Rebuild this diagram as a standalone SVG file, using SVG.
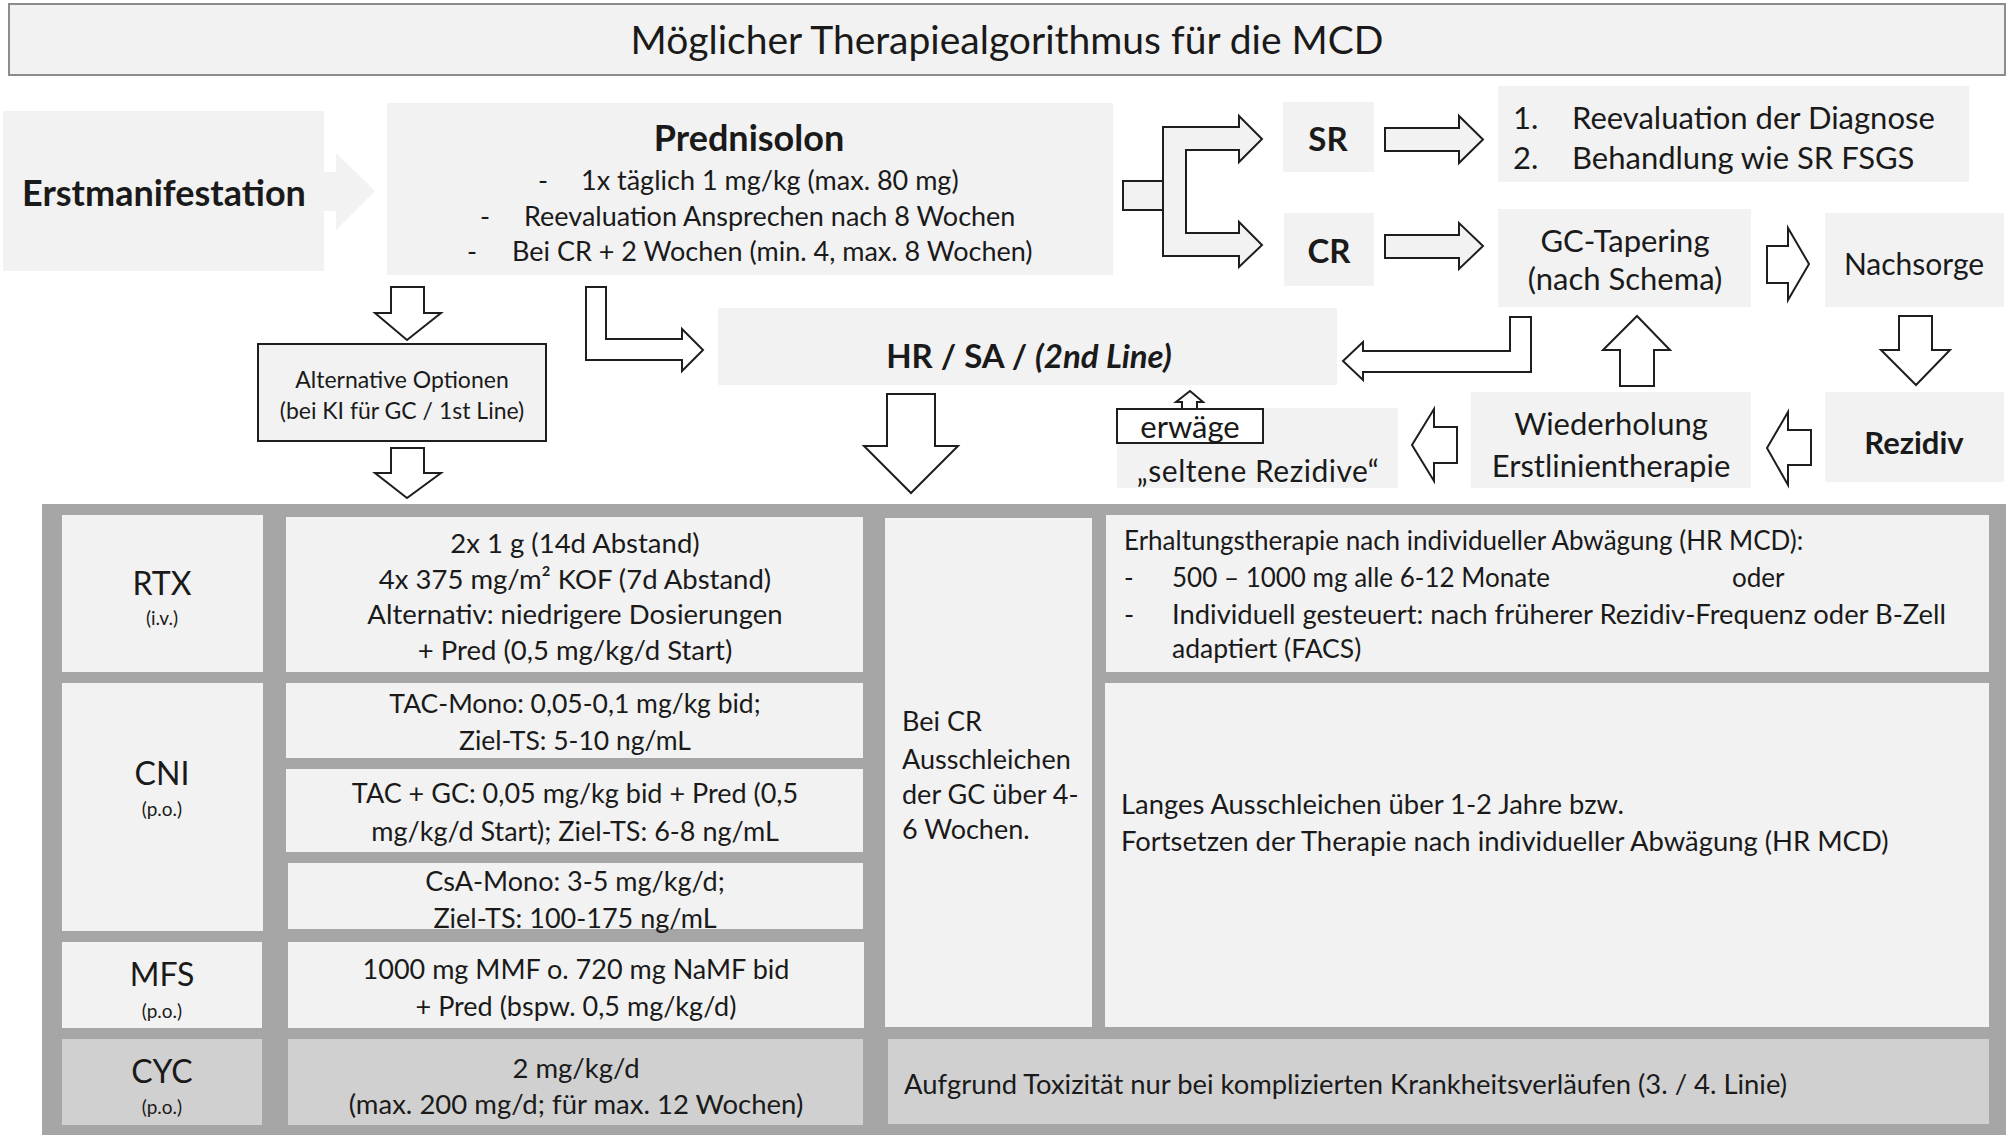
<svg xmlns="http://www.w3.org/2000/svg" width="2008" height="1137" viewBox="0 0 2008 1137">
<style>
text{font-family:Lato,"Open Sans","Liberation Sans",sans-serif;fill:#1a1a1a;dominant-baseline:central}
.box{fill:#f2f2f2}
.dk{fill:#d0d0d0}
.arr{fill:#fff;stroke:#1e1e1e;stroke-width:2;stroke-linejoin:miter}
.arg{fill:#f2f2f2;stroke:#1e1e1e;stroke-width:2;stroke-linejoin:miter}
.c{text-anchor:middle}
.b{font-weight:bold}
.t27{font-size:27px}
.t31{font-size:31px}
.sm{font-size:19px}
</style>
<rect width="2008" height="1137" fill="#fff"/>
<g id="title"><rect x="9" y="4" width="1996" height="71" fill="#f2f2f2" stroke="#8c8c8c" stroke-width="2"/><text x="1007" y="39" class="c" font-size="39">Möglicher Therapiealgorithmus für die MCD</text></g>
<g id="erstmanifestation"><rect class="box" x="3" y="111" width="321" height="160"/><text x="164" y="192" class="c b" font-size="36">Erstmanifestation</text></g>
<g id="prednisolon"><rect class="box" x="387" y="103" width="726" height="172"/><text x="749" y="137" class="c b" font-size="36">Prednisolon</text>
<text x="538" y="179" class="t27">-</text><text x="581" y="179" class="t27">1x täglich 1 mg/kg (max. 80 mg)</text>
<text x="480" y="215" class="t27">-</text><text x="524" y="215" class="t27">Reevaluation Ansprechen nach 8 Wochen</text>
<text x="467" y="250" class="t27">-</text><text x="512" y="250" class="t27">Bei CR + 2 Wochen (min. 4, max. 8 Wochen)</text></g>
<g id="sr"><rect class="box" x="1283" y="102" width="91" height="70"/><text x="1328" y="138" class="c b" font-size="33">SR</text></g>
<g id="cr"><rect class="box" x="1284" y="213" width="90" height="73"/><text x="1329" y="250" class="c b" font-size="33">CR</text></g>
<g id="sr-list"><rect class="box" x="1498" y="86" width="471" height="96"/><text x="1513" y="117" class="t31">1.</text><text x="1572" y="117" class="t31">Reevaluation der Diagnose</text><text x="1513" y="157" class="t31">2.</text><text x="1572" y="157" class="t31">Behandlung wie SR FSGS</text></g>
<g id="gc-tapering"><rect class="box" x="1498" y="209" width="253" height="98"/><text x="1625" y="240" class="c t31">GC-Tapering</text><text x="1625" y="278" class="c t31">(nach Schema)</text></g>
<g id="nachsorge"><rect class="box" x="1825" y="213" width="179" height="94"/><text x="1914" y="263" class="c" font-size="30">Nachsorge</text></g>
<g id="rezidiv"><rect class="box" x="1825" y="392" width="179" height="90"/><text x="1914" y="442" class="c b" font-size="31">Rezidiv</text></g>
<g id="wiederholung"><rect class="box" x="1471" y="392" width="280" height="96"/><text x="1611" y="423" class="c t31">Wiederholung</text><text x="1611" y="465" class="c t31">Erstlinientherapie</text></g>
<g id="seltene"><rect class="box" x="1117" y="408" width="281" height="80"/><text x="1258" y="470" class="c" font-size="30" letter-spacing="0.5">„seltene Rezidive“</text>
<rect x="1117" y="409" width="146" height="34" fill="#fff" stroke="#1e1e1e" stroke-width="2"/><text x="1190" y="426" class="c t31">erwäge</text></g>
<g id="hr-sa"><rect class="box" x="718" y="308" width="619" height="77"/><text x="1029" y="355" class="c b" font-size="33">HR / SA / <tspan font-style="italic">(2nd Line)</tspan></text></g>
<g id="alternative"><rect x="258" y="344" width="288" height="97" fill="#f2f2f2" stroke="#1e1e1e" stroke-width="2"/><text x="402" y="379" class="c" font-size="23">Alternative Optionen</text><text x="402" y="410" class="c" font-size="23">(bei KI für GC / 1st Line)</text></g>
<g id="connectors">
<polygon points="324,172 336,172 336,153 375,191 336,230 336,211 324,211" fill="#f2f2f2"/>
<rect class="arg" x="1123" y="181" width="40" height="29"/>
<polygon class="arg" points="1163,127 1239,127 1239,116 1262,139 1239,162 1239,150 1186,150 1186,233 1239,233 1239,222 1262,245 1239,267 1239,256 1163,256"/>
<polygon class="arg" points="1385,128 1459,128 1459,116 1483,139.5 1459,163 1459,151 1385,151"/>
<polygon class="arg" points="1385,235 1459,235 1459,223 1483,246 1459,269 1459,258 1385,258"/>
<polygon class="arr" points="1767,246 1788,246 1788,228 1809,264 1788,300 1788,283 1767,283"/>
<polygon class="arr" points="1899,316 1932,316 1932,350 1950,350 1916,385 1881,350 1899,350"/>
<polygon class="arr" points="1811,430 1811,465 1788,465 1788,485 1767,448 1788,412 1788,430"/>
<polygon class="arr" points="1620,386 1620,350 1603,350 1637,316 1670,350 1654,350 1654,386"/>
<polygon class="arr" points="1457,427 1457,463 1434,463 1434,481 1412,445 1434,409 1434,427"/>
<polygon class="arr" points="1182,409 1182,402 1176,402 1190,391 1203,402 1197,402 1197,409"/>
<polygon class="arr" points="1510,317 1531,317 1531,372 1363,372 1363,380 1343,361 1363,342 1363,351 1510,351"/>
<polygon class="arr" points="586,287 606,287 606,339 682,339 682,329 703,350 682,371 682,360 586,360"/>
<polygon class="arr" points="391,287 424,287 424,313 441,313 407,340 375,313 391,313"/>
<polygon class="arr" points="391,448 424,448 424,473 441,473 407,498 375,473 391,473"/>
<polygon class="arr" points="887,394 935,394 935,446 958,446 911,493 864,446 887,446"/>
</g>
<g id="table">
<rect x="42" y="504" width="1964" height="631" fill="#a6a6a6"/>
<g id="rtx"><rect class="box" x="62" y="515" width="201" height="157"/><text x="162" y="582" class="c" font-size="32">RTX</text><text x="162" y="617" class="c sm">(i.v.)</text></g>
<g id="rtx-dose"><rect class="box" x="286" y="517" width="577" height="155"/>
<text x="575" y="542" class="c" font-size="27.5">2x 1 g (14d Abstand)</text>
<text x="575" y="578" class="c" font-size="27.5">4x 375 mg/m² KOF (7d Abstand)</text>
<text x="575" y="613" class="c" font-size="27.5">Alternativ: niedrigere Dosierungen</text>
<text x="575" y="649" class="c" font-size="27.5">+ Pred (0,5 mg/kg/d Start)</text></g>
<g id="bei-cr"><rect class="box" x="885" y="518" width="207" height="509"/>
<text x="902" y="720" class="t27">Bei CR</text><text x="902" y="758" class="t27">Ausschleichen</text><text x="902" y="793" class="t27">der GC über 4-</text><text x="902" y="828" class="t27">6 Wochen.</text></g>
<g id="erhaltung"><rect class="box" x="1106" y="515" width="883" height="157"/>
<text x="1124" y="540" font-size="26">Erhaltungstherapie nach individueller  Abwägung (HR MCD):</text>
<text x="1124" y="577" font-size="26">-</text><text x="1172" y="577" font-size="26">500 – 1000 mg alle 6-12 Monate</text><text x="1732" y="577" font-size="26">oder</text>
<text x="1124" y="613" font-size="27.4">-</text><text x="1172" y="613" font-size="27.4">Individuell gesteuert: nach früherer Rezidiv-Frequenz oder B-Zell</text>
<text x="1172" y="648" font-size="26.5">adaptiert (FACS)</text></g>
<g id="cni"><rect class="box" x="62" y="683" width="201" height="248"/><text x="162" y="772" class="c" font-size="32">CNI</text><text x="162" y="808" class="c sm">(p.o.)</text></g>
<g id="tac-mono"><rect class="box" x="286" y="683" width="577" height="75"/><text x="575" y="703" class="c" font-size="26.5">TAC-Mono: 0,05-0,1 mg/kg bid;</text><text x="575" y="740" class="c" font-size="26.5">Ziel-TS: 5-10 ng/mL</text></g>
<g id="tac-gc"><rect class="box" x="286" y="769" width="577" height="83"/><text x="575" y="792" class="c t27">TAC + GC: 0,05 mg/kg bid  + Pred (0,5</text><text x="575" y="830" class="c t27">mg/kg/d Start); Ziel-TS: 6-8 ng/mL</text></g>
<g id="csa"><rect class="box" x="288" y="863" width="575" height="66"/><text x="575" y="880" class="c t27">CsA-Mono: 3-5 mg/kg/d;</text><text x="575" y="917" class="c t27">Ziel-TS: 100-175 ng/mL</text></g>
<g id="langes"><rect class="box" x="1105" y="683" width="884" height="344"/><text x="1121" y="803" font-size="27.4">Langes Ausschleichen über 1-2 Jahre bzw.</text><text x="1121" y="840" font-size="27.4">Fortsetzen der Therapie nach individueller  Abwägung (HR MCD)</text></g>
<g id="mfs"><rect class="box" x="62" y="942" width="200" height="86"/><text x="162" y="973" class="c" font-size="32">MFS</text><text x="162" y="1010" class="c sm">(p.o.)</text></g>
<g id="mfs-dose"><rect class="box" x="288" y="942" width="576" height="86"/><text x="576" y="968" class="c t27">1000 mg MMF o. 720 mg NaMF bid</text><text x="576" y="1005" class="c t27">+ Pred (bspw. 0,5 mg/kg/d)</text></g>
<g id="cyc"><rect class="dk" x="62" y="1039" width="200" height="86"/><text x="162" y="1070" class="c" font-size="32">CYC</text><text x="162" y="1106" class="c sm">(p.o.)</text></g>
<g id="cyc-dose"><rect class="dk" x="288" y="1039" width="575" height="86"/><text x="576" y="1067" class="c" font-size="27.5">2 mg/kg/d</text><text x="576" y="1103" class="c" font-size="27.5">(max. 200 mg/d; für max. 12 Wochen)</text></g>
<g id="aufgrund"><rect class="dk" x="888" y="1039" width="1101" height="85"/><text x="904" y="1083" font-size="27.4">Aufgrund Toxizität nur bei komplizierten Krankheitsverläufen (3. / 4. Linie)</text></g>
</g>
</svg>
